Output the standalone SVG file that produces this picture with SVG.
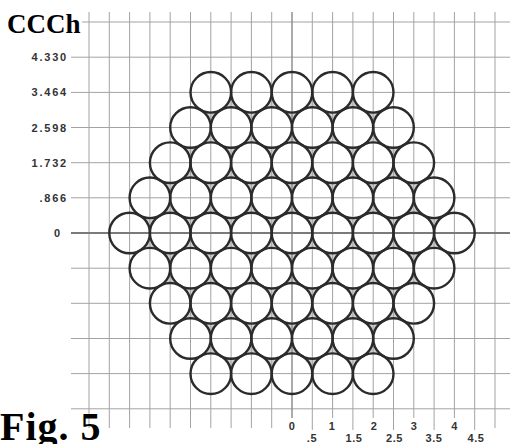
<svg xmlns="http://www.w3.org/2000/svg" width="510" height="444" viewBox="0 0 510 444">
<style>
.g{stroke:#a3a3a3;stroke-width:1;fill:none}
.ax{stroke:#7a7a7a;stroke-width:2;fill:none}
.cf{fill:#fff;stroke:none}
.c{fill:none;stroke:#2b2b2b;stroke-width:2.4}
.yl{font-family:"Liberation Sans",Arial,sans-serif;font-size:11px;font-weight:bold;fill:#333;letter-spacing:1.8px;text-anchor:end}
.xl{font-family:"Liberation Sans",Arial,sans-serif;font-size:11px;font-weight:bold;fill:#333;letter-spacing:0.6px;text-anchor:middle}
.t{font-family:"Liberation Serif","Times New Roman",serif;font-weight:bold;fill:#000}
</style>
<defs>
<g id="fills">
<circle cx="210.8" cy="92.36" r="20.3"/><circle cx="251.4" cy="92.36" r="20.3"/><circle cx="292" cy="92.36" r="20.3"/><circle cx="332.6" cy="92.36" r="20.3"/><circle cx="373.2" cy="92.36" r="20.3"/>
<circle cx="190.5" cy="127.52" r="20.3"/><circle cx="231.1" cy="127.52" r="20.3"/><circle cx="271.7" cy="127.52" r="20.3"/><circle cx="312.3" cy="127.52" r="20.3"/><circle cx="352.9" cy="127.52" r="20.3"/><circle cx="393.5" cy="127.52" r="20.3"/>
<circle cx="170.2" cy="162.68" r="20.3"/><circle cx="210.8" cy="162.68" r="20.3"/><circle cx="251.4" cy="162.68" r="20.3"/><circle cx="292" cy="162.68" r="20.3"/><circle cx="332.6" cy="162.68" r="20.3"/><circle cx="373.2" cy="162.68" r="20.3"/><circle cx="413.8" cy="162.68" r="20.3"/>
<circle cx="149.9" cy="197.84" r="20.3"/><circle cx="190.5" cy="197.84" r="20.3"/><circle cx="231.1" cy="197.84" r="20.3"/><circle cx="271.7" cy="197.84" r="20.3"/><circle cx="312.3" cy="197.84" r="20.3"/><circle cx="352.9" cy="197.84" r="20.3"/><circle cx="393.5" cy="197.84" r="20.3"/><circle cx="434.1" cy="197.84" r="20.3"/>
<circle cx="129.6" cy="233" r="20.3"/><circle cx="170.2" cy="233" r="20.3"/><circle cx="210.8" cy="233" r="20.3"/><circle cx="251.4" cy="233" r="20.3"/><circle cx="292" cy="233" r="20.3"/><circle cx="332.6" cy="233" r="20.3"/><circle cx="373.2" cy="233" r="20.3"/><circle cx="413.8" cy="233" r="20.3"/><circle cx="454.4" cy="233" r="20.3"/>
<circle cx="149.9" cy="268.16" r="20.3"/><circle cx="190.5" cy="268.16" r="20.3"/><circle cx="231.1" cy="268.16" r="20.3"/><circle cx="271.7" cy="268.16" r="20.3"/><circle cx="312.3" cy="268.16" r="20.3"/><circle cx="352.9" cy="268.16" r="20.3"/><circle cx="393.5" cy="268.16" r="20.3"/><circle cx="434.1" cy="268.16" r="20.3"/>
<circle cx="170.2" cy="303.32" r="20.3"/><circle cx="210.8" cy="303.32" r="20.3"/><circle cx="251.4" cy="303.32" r="20.3"/><circle cx="292" cy="303.32" r="20.3"/><circle cx="332.6" cy="303.32" r="20.3"/><circle cx="373.2" cy="303.32" r="20.3"/><circle cx="413.8" cy="303.32" r="20.3"/>
<circle cx="190.5" cy="338.48" r="20.3"/><circle cx="231.1" cy="338.48" r="20.3"/><circle cx="271.7" cy="338.48" r="20.3"/><circle cx="312.3" cy="338.48" r="20.3"/><circle cx="352.9" cy="338.48" r="20.3"/><circle cx="393.5" cy="338.48" r="20.3"/>
<circle cx="210.8" cy="373.64" r="20.3"/><circle cx="251.4" cy="373.64" r="20.3"/><circle cx="292" cy="373.64" r="20.3"/><circle cx="332.6" cy="373.64" r="20.3"/><circle cx="373.2" cy="373.64" r="20.3"/>
</g>
</defs>
<rect width="510" height="444" fill="#fff"/>
<g id="gaps">
<polygon points="210.8,92.36 373.2,92.36 454.4,233 373.2,373.64 210.8,373.64 129.6,233" fill="#cfcfcf"/>
<use href="#fills" class="cf"/>
</g>
<g id="grid">
<path class="g" d="M82 22H510M71 57.2H510M71 92.4H510M71 127.5H510M71 162.7H510M71 197.8H510M71 268.2H510M71 303.3H510M71 338.5H510M71 373.6H510M71 408.8H510"/>
<path class="g" d="M89 12V428M109.3 12V428M129.6 12V428M149.9 12V428M170.2 12V428M190.5 12V428M210.8 12V428M231.1 12V428M251.4 12V428M271.7 12V428M312.3 12V430M332.6 12V418M352.9 12V430M373.2 12V418M393.5 12V430M413.8 12V418M434.1 12V430M454.4 12V418M474.7 12V430M495 12V428"/>
<path d="M292 12V418" stroke="#888" stroke-width="1.4" fill="none"/>
<path class="ax" d="M71 233H510"/>
</g>
<g id="circles">
<use href="#fills" class="c"/>
</g>
<g id="y-labels">
<text class="yl" x="68" y="61.2">4.330</text>
<text class="yl" x="68" y="96.4">3.464</text>
<text class="yl" x="68" y="131.5">2.598</text>
<text class="yl" x="68" y="166.7">1.732</text>
<text class="yl" x="68" y="201.8">.866</text>
<text class="yl" x="62" y="237">0</text>
</g>
<g id="x-labels">
<text class="xl" x="292" y="430">0</text>
<text class="xl" x="312" y="442">.5</text>
<text class="xl" x="332" y="430">1</text>
<text class="xl" x="354" y="442">1.5</text>
<text class="xl" x="374" y="430">2</text>
<text class="xl" x="394.5" y="442">2.5</text>
<text class="xl" x="414" y="430">3</text>
<text class="xl" x="434" y="442">3.5</text>
<text class="xl" x="454.5" y="430">4</text>
<text class="xl" x="476" y="442">4.5</text>
</g>
<text class="t" x="7" y="33" font-size="27">CCCh</text>
<text class="t" x="0" y="440" font-size="40" letter-spacing="1">Fig. 5</text>
</svg>
